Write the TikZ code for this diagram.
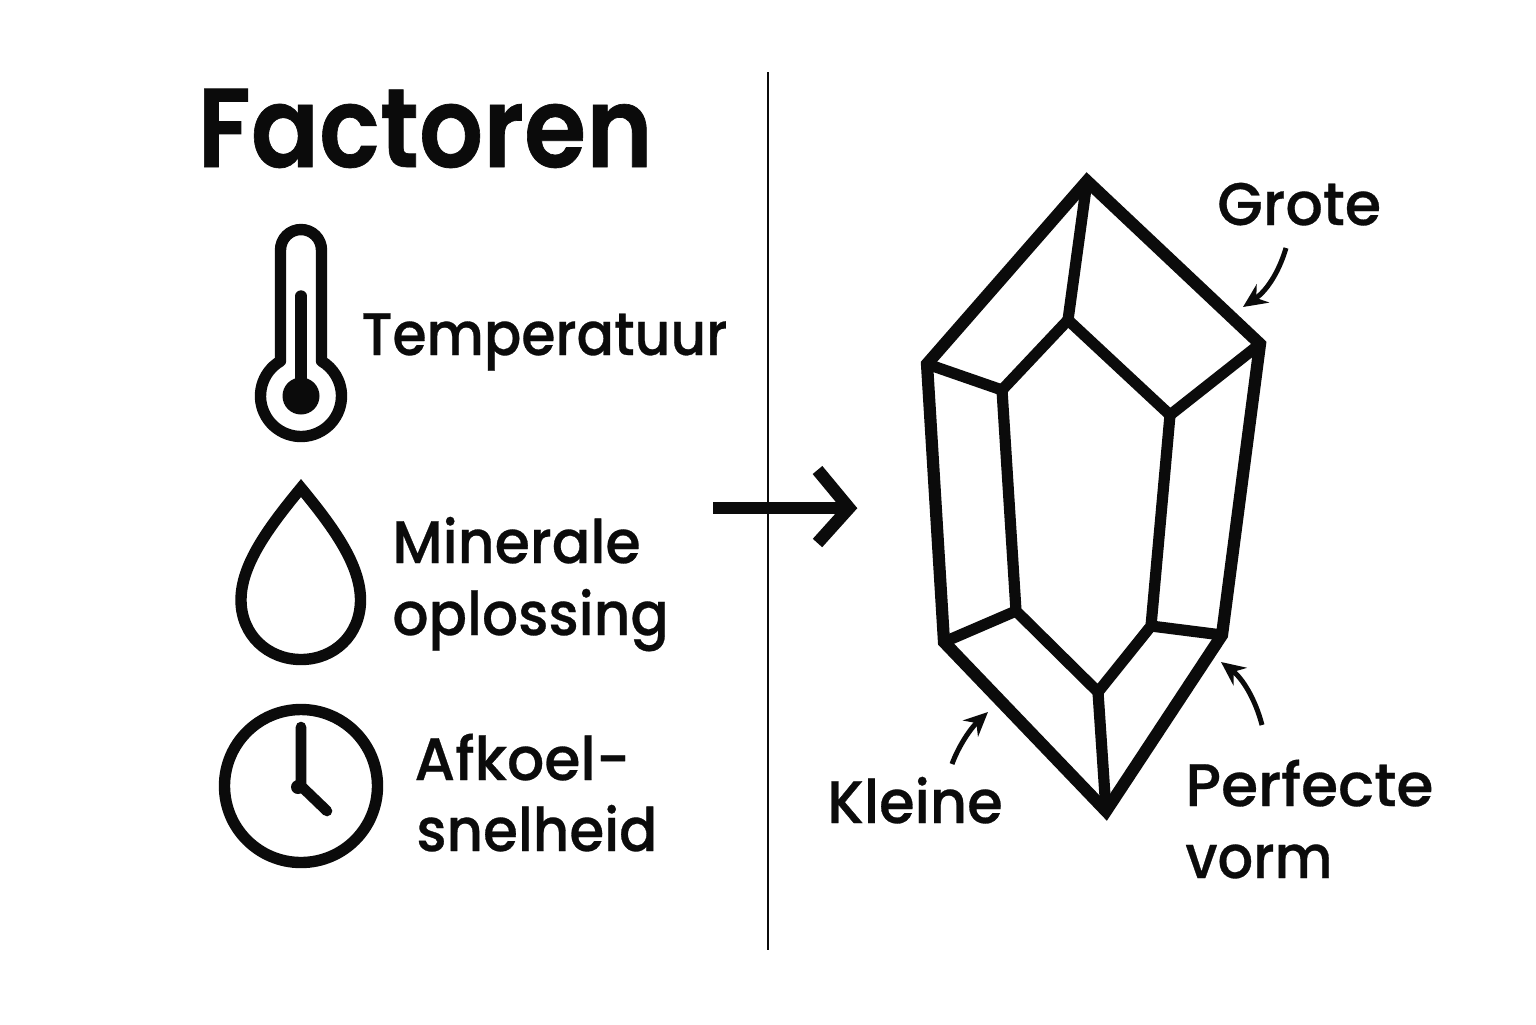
\documentclass[tikz,border=0pt]{standalone}
\usepackage{fontspec}
\usepackage{graphicx}
\setmainfont{Poppins}[UprightFont=* Medium,BoldFont=* Bold,RawFeature={embolden=0.5}]
\newfontfamily\titlefont{Poppins}[UprightFont=* SemiBold,RawFeature={embolden=0.6}]
\usetikzlibrary{arrows.meta}
\definecolor{ink}{HTML}{0B0B0B}
\newcommand\sxt[2]{\scalebox{#1}[1]{#2}}
\tikzset{
  lbl/.style={anchor=base west,inner sep=0pt,font=\fontsize{30}{30}\selectfont,text=ink},
  ttl/.style={anchor=base west,inner sep=0pt,font=\titlefont\fontsize{56}{56}\selectfont,text=ink},
  icon/.style={draw=ink,line width=5.7pt,line join=round},
  crys/.style={draw=ink,line width=6.1pt,line join=miter,line cap=round},
  inner/.style={draw=ink,line width=5.6pt,line join=miter,line cap=butt},
  note/.style={draw=ink,line width=2.5pt,-{Stealth[length=12pt,width=11pt,inset=4pt]}},
}
\begin{document}
\begin{tikzpicture}[x=0.5pt,y=-0.5pt]
\useasboundingbox[fill=white] (0,0) rectangle (1536,1024);
% title
\node[ttl] (title) at (197,167) {\sxt{0.90}{Factoren}};
% divider
\coordinate (dtop) at (768,72);
\coordinate (dbot) at (768,950);
\draw[ink,line width=1.2pt] (dtop) -- (dbot);
% thermometer
\draw[icon] (301,396) ++(239.6:40.5) arc[start angle=239.6,end angle=-59.6,radius=40.5]
  -- (321.5,250) arc[start angle=0,end angle=-180,radius=20.5] -- cycle;
\fill[ink] (301,396) circle[radius=18.5];
\draw[ink,line width=5.7pt,line cap=round] (301,296) -- (301,396);
% drop
\draw[icon,line join=miter,miter limit=10] (301,488) .. controls (268,528) and (241,565) .. (241,600)
  .. controls (241,635) and (268,659.5) .. (301,659.5)
  .. controls (334,659.5) and (360.5,635) .. (360.5,600)
  .. controls (360.5,565) and (334,528) .. (301,488) -- cycle;
% clock
\draw[icon] (301,786) circle[radius=76.5];
\fill[ink] (298,787) circle[radius=7];
\draw[ink,line width=5.3pt,line cap=round] (301,727) -- (301,786) -- (327,811);
% labels
\node[lbl] (t1) at (361,355) {\sxt{0.92}{Temperatuur}};
\node[lbl] (t2) at (392,563) {\sxt{0.95}{Minerale}};
\node[lbl] (t3) at (392,635) {\sxt{0.945}{oplossing}};
\node[lbl] (t4) at (414,780) {\sxt{0.975}{Afkoel-}};
\node[lbl] (t5) at (416,851) {\sxt{0.94}{snelheid}};
\node[lbl] (g) at (1217,225) {\sxt{0.98}{Grote}};
\node[lbl] (k) at (827,823) {\sxt{0.96}{Kleine}};
\node[lbl] (p1) at (1185,806) {\sxt{1}{Perfecte}};
\node[lbl] (p2) at (1185,878) {\sxt{0.93}{vorm}};
% main arrow
\coordinate (as) at (713,508);
\coordinate (ae) at (849,508);
\draw[ink,line width=5.8pt] (as) -- (ae);
\draw[ink,line width=6.3pt,line join=miter] (817.5,470) -- (ae) -- (817.5,543);
% crystal
\coordinate (A) at (1087,181);
\coordinate (B) at (1260,344);
\coordinate (C) at (1222,635);
\coordinate (D) at (1106,811);
\coordinate (E) at (944,642);
\coordinate (F) at (927,364);
\coordinate (a) at (1068,320);
\coordinate (b) at (1170,415);
\coordinate (c) at (1151,626);
\coordinate (d) at (1098,692);
\coordinate (e) at (1016,611);
\coordinate (f) at (1002,390);
\draw[inner] (a) -- (b) -- (c) -- (d) -- (e) -- (f) -- cycle;
\draw[inner] (A) -- (a) (B) -- (b) (C) -- (c) (D) -- (d) (E) -- (e) (F) -- (f);
\draw[crys] (A) -- (B) -- (C) -- (D) -- (E) -- (F) -- cycle;
% notes
\coordinate (n1) at (1286,248);
\coordinate (n1e) at (1243,307);
\draw[note] (n1) .. controls (1278,275) and (1265,292) .. (n1e);
\coordinate (n2) at (952,764);
\coordinate (n2e) at (988,712);
\draw[note] (n2) .. controls (959,745) and (971,728) .. (n2e);
\coordinate (n3) at (1262,725);
\coordinate (n3e) at (1221,662);
\draw[note] (n3) .. controls (1255,698) and (1242,678) .. (n3e);
\end{tikzpicture}
\end{document}
